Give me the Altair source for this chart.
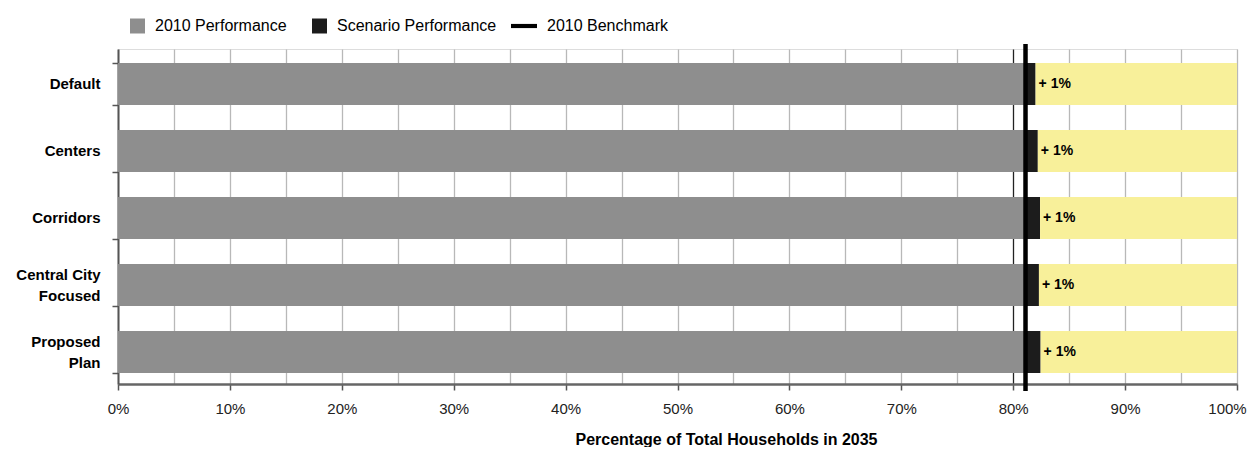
import altair as alt
import pandas as pd

categories = ["Default", "Centers", "Corridors", "Central City Focused", "Proposed Plan"]
perf_2010 = [81.1, 81.1, 81.1, 81.1, 81.1]
scenario_perf = [82.0, 82.2, 82.4, 82.3, 82.45]
change_labels = ["+ 1%", "+ 1%", "+ 1%", "+ 1%", "+ 1%"]
benchmark_2010 = [81.1]
series = ["2010 Performance", "Scenario Performance", "2010 Benchmark"]
x_grid = [0, 5, 10, 15, 20, 25, 30, 35, 40, 45, 50, 55, 60, 65, 70, 75, 80, 85, 90, 95, 100]

GRAY = "#8e8e8e"
DARK = "#1c1c1c"
YELLOW = "#f8f09a"
FONT = "Liberation Sans"

df = pd.DataFrame({
    "cat": categories,
    "p2010": perf_2010,
    "scen": scenario_perf,
    "label": change_labels,
    "full": [100] * len(categories),
    "zero": [0] * len(categories),
})
bench = pd.DataFrame({"b": benchmark_2010})
leg = pd.DataFrame({"series": series})

W, H = 1119, 335

xscale = alt.Scale(domain=[0, 100], nice=False, zero=True)
yscale = alt.Scale(domain=categories, paddingInner=0.373, paddingOuter=0.1865, align=0.56)

label_expr = ("datum.value == 'Central City Focused' ? ['Central City', 'Focused'] : "
              "datum.value == 'Proposed Plan' ? ['Proposed', 'Plan'] : datum.value")

xaxis = alt.Axis(
    values=x_grid,
    labelExpr="datum.value % 10 == 0 ? datum.value + '%' : ''",
    grid=True,
    gridColor=alt.expr("datum.value == 80 ? '#222222' : '#b8b8b8'"),
    gridWidth=1.3,
    tickSize=6,
    tickOpacity=alt.expr("datum.value % 10 == 0 ? 1 : 0"),
    tickColor="#555555",
    tickWidth=1.5,
    domainColor="#666666",
    domainWidth=2.5,
    labelFont=FONT,
    labelFontSize=15,
    labelColor="#222222",
    labelPadding=11,
    labelFlush=False,
    labelOffset=alt.expr("datum.value == 100 ? -10 : 0"),
    title="Percentage of Total Households in 2035",
    titleFont=FONT,
    titleFontSize=16,
    titleFontWeight="bold",
    titleColor="#000000",
    titleX=608,
    titleY=47,
)

yaxis = alt.Axis(
    title=None,
    labelExpr=label_expr,
    labelFont=FONT,
    labelFontSize=15,
    labelFontWeight="bold",
    labelColor="#000000",
    labelLineHeight=21,
    labelPadding=12,
    labelOffset=alt.expr("datum.value == 'Central City Focused' || datum.value == 'Proposed Plan' ? -10 : 0"),
    tickBand="extent",
    tickSize=6,
    tickColor="#555555",
    tickWidth=1.5,
    domainColor="#555555",
    domainWidth=2,
    grid=False,
)

base = alt.Chart(df)

gray_bar = base.mark_bar(color=GRAY).encode(
    x=alt.X("zero:Q", scale=xscale, axis=xaxis),
    x2="p2010:Q",
    y=alt.Y("cat:N", scale=yscale, axis=yaxis, sort=categories),
)
dark_bar = base.mark_bar(color=DARK).encode(
    x=alt.X("p2010:Q", scale=xscale),
    x2="scen:Q",
    y=alt.Y("cat:N", scale=yscale, sort=categories),
)
yellow_bar = base.mark_bar(color=YELLOW).encode(
    x=alt.X("scen:Q", scale=xscale),
    x2="full:Q",
    y=alt.Y("cat:N", scale=yscale, sort=categories),
)
text = base.mark_text(align="left", baseline="middle", dx=3, font=FONT,
                      fontSize=14, fontWeight="bold", color="#000000").encode(
    x=alt.X("scen:Q", scale=xscale),
    y=alt.Y("cat:N", scale=yscale, sort=categories),
    text="label:N",
)
rule = alt.Chart(bench).mark_rule(color="#000000", strokeWidth=4.5).encode(
    x=alt.X("b:Q", scale=xscale),
    y=alt.value(-5),
    y2=alt.value(H + 7),
)

sq = "M-0.154,-0.577L1,-0.577L1,0.577L-0.154,0.577Z"
ln = "M-1,-0.16L1,-0.16L1,0.16L-1,0.16Z"
legend_layer = alt.Chart(leg).transform_filter("false").mark_point(filled=True, opacity=1).encode(
    color=alt.Color("series:N", scale=alt.Scale(domain=series, range=[GRAY, DARK, "#000000"]),
                    legend=alt.Legend(
                        title=None, orient="none", legendX=1, legendY=-36,
                        direction="horizontal", symbolSize=676, symbolStrokeWidth=0,
                        labelFont=FONT, labelFontSize=16, labelColor="#000000",
                        labelOffset=10, columnPadding=14, padding=0,
                        symbolOpacity=1, labelLimit=400)),
    shape=alt.Shape("series:N", scale=alt.Scale(domain=series, range=[sq, sq, ln])),
)

chart = alt.layer(gray_bar, dark_bar, yellow_bar, text, rule, legend_layer).properties(
    width=W, height=H,
    autosize=alt.AutoSizeParams(type="none"),
    padding={"left": 110, "top": 41, "right": 12, "bottom": 63},
).configure_view(stroke="#a0a0a0", strokeWidth=2).configure(background="white")

chart.save("out.html", embed_options={"renderer": "svg", "actions": False})
